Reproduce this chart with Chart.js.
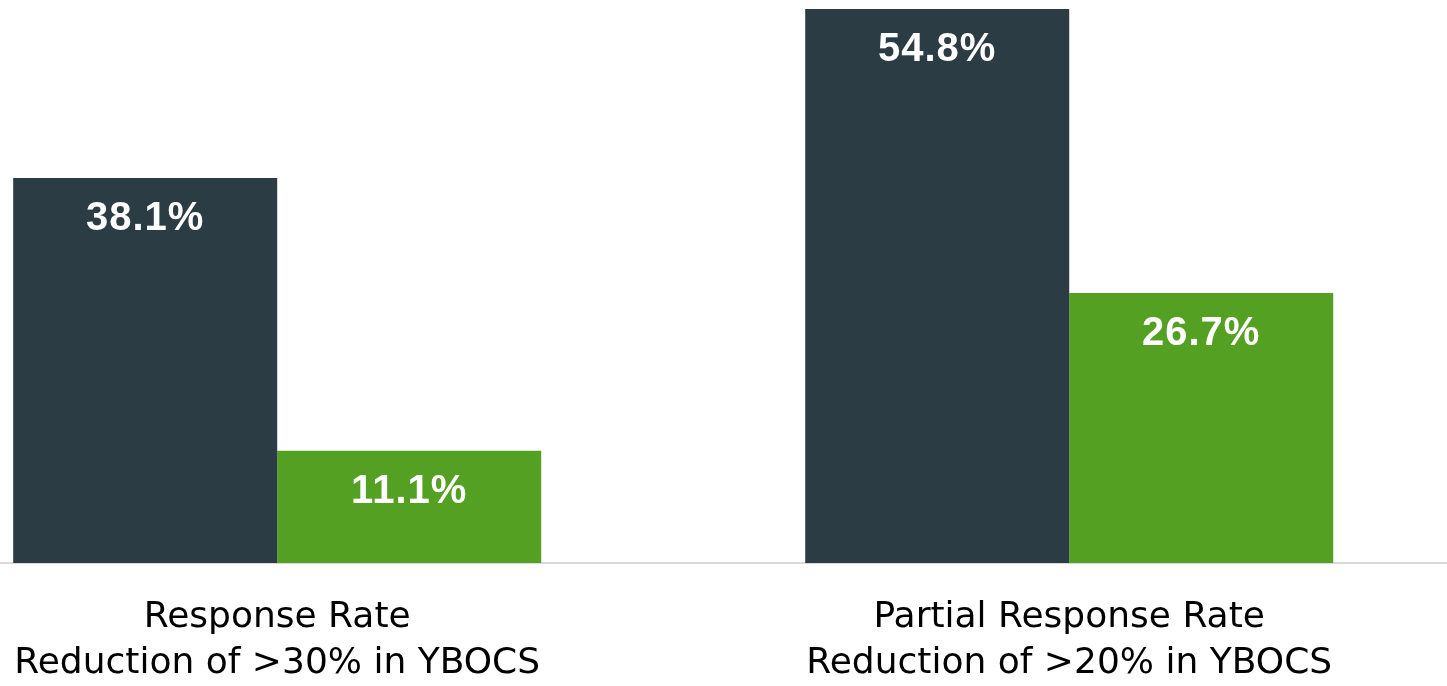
<!DOCTYPE html>
<html>
<head>
<meta charset="utf-8">
<title>YBOCS response rates</title>
<script src="https://cdn.jsdelivr.net/npm/chart.js@4"></script>
<style>
    html, body { margin: 0; padding: 0; background: #fff; overflow: hidden; }
    #wrap { width: 1447px; height: 686px; position: relative; }
</style>
</head>
<body>
<div id="wrap"><canvas id="rateChart"></canvas></div>
<script>
// --- Data ---
const categories = [
    ['Response Rate', 'Reduction of >30% in YBOCS'],
    ['Partial Response Rate', 'Reduction of >20% in YBOCS']
];
const seriesNames = ['Active', 'Placebo'];
const activeValues = [38.1, 54.8];
const placeboValues = [11.1, 26.7];

const DARK = '#2c3c45';
const GREEN = '#53a022';

// draws the white % labels near the top of each bar
const valueLabels = {
    id: 'valueLabels',
    afterDatasetsDraw(chart) {
        const { ctx } = chart;
        ctx.save();
        ctx.fillStyle = '#ffffff';
        ctx.font = 'bold 40px "Liberation Sans", Arial, sans-serif';
        ctx.letterSpacing = '1px';
        ctx.textAlign = 'center';
        ctx.textBaseline = 'alphabetic';
        chart.data.datasets.forEach((ds, di) => {
            const meta = chart.getDatasetMeta(di);
            meta.data.forEach((bar, i) => {
                ctx.fillText(ds.data[i].y.toFixed(1) + '%', bar.x, bar.y + 52);
            });
        });
        ctx.restore();
    }
};

const toPoints = arr => arr.map((v, i) => ({ x: i, y: v }));

new Chart(document.getElementById('rateChart'), {
    type: 'bar',
    data: {
        datasets: [
            { label: seriesNames[0], data: toPoints(activeValues), backgroundColor: DARK },
            { label: seriesNames[1], data: toPoints(placeboValues), backgroundColor: GREEN }
        ]
    },
    options: {
        responsive: true,
        maintainAspectRatio: false,
        animation: false,
        layout: { padding: 0 },
        datasets: { bar: { categoryPercentage: 0.6667, barPercentage: 1.0 } },
        plugins: { legend: { display: false }, tooltip: { enabled: false } },
        scales: {
            x: {
                type: 'linear',
                offset: false,
                min: -0.35,
                max: 1.477,
                grid: { display: false, drawTicks: false, offset: false },
                border: { display: true, color: '#d9d9d9', width: 2 },
                afterBuildTicks: axis => { axis.ticks = categories.map((c, i) => ({ value: i })); },
                afterFit: axis => {
                    axis.height = 123;
                    axis.paddingLeft = 0;
                    axis.paddingRight = 0;
                },
                ticks: {
                    autoSkip: false,
                    maxRotation: 0,
                    padding: 32,
                    color: '#000000',
                    font: { family: '"DejaVu Sans", sans-serif', size: 36, lineHeight: '46px' },
                    callback: (value, index) => categories[index]
                }
            },
            y: {
                display: false,
                min: 0,
                max: 55.7
            }
        }
    },
    plugins: [valueLabels]
});
</script>
</body>
</html>
